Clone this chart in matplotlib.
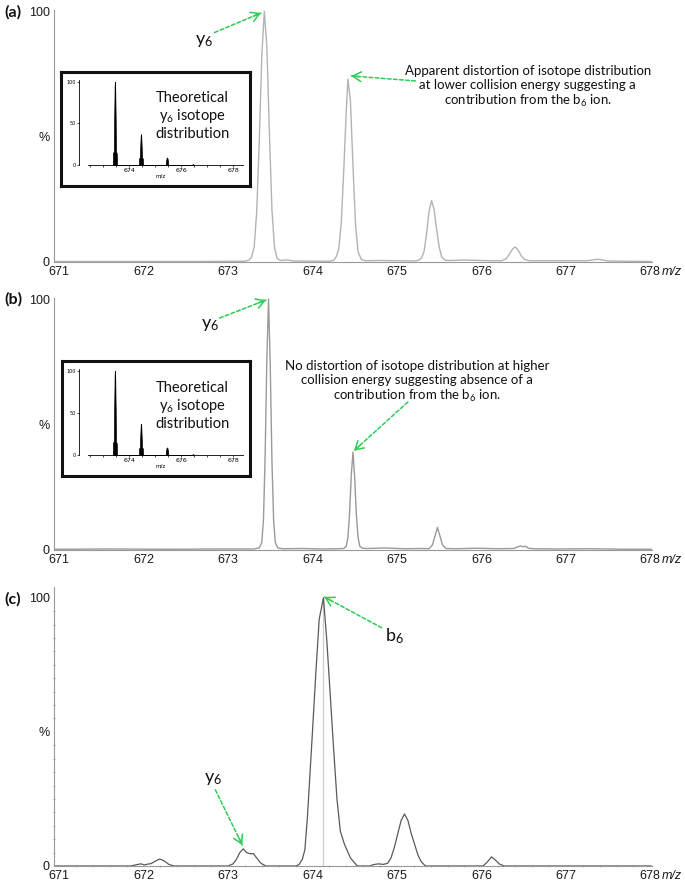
import numpy as np
import matplotlib
matplotlib.use('Agg')
import matplotlib.pyplot as plt
from matplotlib.ticker import MultipleLocator

# --- DATA ---
# (a) lower collision energy, y6 isotope cluster (m/z, %)
a_mz = [670.95, 672.60, 673.20, 673.25, 673.28, 673.31, 673.34, 673.37, 673.40, 673.43, 673.46, 673.49, 673.52, 673.55, 673.58, 673.62, 673.70, 673.78,
        674.20, 674.25, 674.28, 674.31, 674.34, 674.37, 674.40, 674.42, 674.45, 674.48, 674.51, 674.54, 674.58, 674.63, 674.80, 675.00,
        675.20, 675.25, 675.29, 675.32, 675.35, 675.38, 675.41, 675.44, 675.47, 675.50, 675.53, 675.57, 675.63, 675.80, 676.00, 676.15,
        676.24, 676.29, 676.33, 676.37, 676.40, 676.43, 676.47, 676.51, 676.57, 676.80, 677.05, 677.25, 677.32, 677.38, 677.44, 677.50, 677.70, 678.02]
a_int = [0.2, 0.2, 0.3, 0.8, 2, 6, 20, 48, 82, 100, 86, 52, 21, 6, 1.5, 0.6, 0.8, 0.4,
         0.3, 0.6, 2, 5, 15, 36, 60, 73, 64, 38, 15, 4, 1, 0.5, 0.6, 0.5,
         0.4, 0.6, 1.5, 4, 11, 20, 24.5, 21, 13, 6, 2, 0.7, 0.6, 0.8, 0.6, 0.5,
         0.5, 1.2, 3, 5.2, 6, 5, 2.6, 1, 0.5, 0.5, 0.5, 0.5, 0.8, 1.1, 0.8, 0.4, 0.3, 0.2]

# (b) higher collision energy
b_mz = [670.95, 671.60, 672.30, 672.90, 673.30, 673.37, 673.40, 673.42, 673.44, 673.46, 673.48, 673.50, 673.52, 673.54, 673.56, 673.59, 673.65, 673.90, 674.10, 674.30,
        674.37, 674.40, 674.42, 674.44, 674.46, 674.48, 674.50, 674.52, 674.54, 674.56, 674.59, 674.65, 674.85, 675.10, 675.30,
        675.38, 675.42, 675.45, 675.48, 675.51, 675.54, 675.58, 675.70, 675.95, 676.20, 676.38, 676.43, 676.46, 676.49, 676.52, 676.56, 676.62, 676.90, 677.30, 677.70, 678.02]
b_int = [0.3, 0.4, 0.3, 0.4, 0.4, 0.8, 3, 12, 38, 76, 100, 74, 36, 12, 3, 0.8, 0.5, 0.6, 0.4, 0.5,
         0.6, 1.5, 5, 15, 30, 39, 29, 14, 5, 1.5, 0.7, 0.6, 0.8, 0.5, 0.6,
         0.5, 2, 5.5, 9, 5.5, 2, 0.6, 0.5, 0.7, 0.5, 0.6, 1.2, 1.6, 1.3, 1.5, 0.7, 0.5, 0.4, 0.5, 0.3, 0.3]

# (c) b6 dominated spectrum
c_mz = [670.95, 671.85, 671.92, 671.97, 672.01, 672.05, 672.09, 672.14, 672.19, 672.24, 672.30, 672.36, 673.00,
        673.06, 673.10, 673.14, 673.18, 673.22, 673.26, 673.30, 673.34, 673.39, 673.45, 673.80,
        673.84, 673.88, 673.91, 673.94, 673.97, 674.00, 674.04, 674.08, 674.13, 674.17, 674.21, 674.25, 674.29, 674.33, 674.38, 674.45, 674.53, 674.68,
        674.72, 674.78, 674.84, 674.89, 674.93, 674.97, 675.01, 675.05, 675.09, 675.13, 675.17, 675.21, 675.25, 675.29, 675.34, 675.45,
        676.02, 676.07, 676.12, 676.16, 676.21, 676.27, 678.02]
c_int = [0, 0, 0.5, 0.8, 0.4, 0.7, 0.9, 1.8, 2.6, 2.0, 0.6, 0, 0,
         0.8, 2.5, 5, 6.4, 5.0, 4.6, 4.6, 3.0, 1.0, 0, 0,
         0.5, 2.5, 6, 18, 34, 50, 72, 92, 100, 84, 64, 44, 25, 13, 8, 3, 0, 0,
         0.5, 0.8, 0.6, 1.0, 3, 7, 12, 17, 19.4, 17, 12, 8, 4, 1.5, 0, 0,
         0, 1.5, 3.4, 2.4, 0.8, 0, 0]
c_centroid = 674.13

# theoretical y6 isotope distribution (inset)
th_mz = [673.37, 673.38, 673.41, 673.42, 673.44, 673.45, 673.46, 673.48, 673.49, 673.52, 673.53,
         674.37, 674.38, 674.41, 674.42, 674.44, 674.45, 674.46, 674.48, 674.49, 674.52, 674.53,
         675.40, 675.41, 675.43, 675.45, 675.47, 675.49, 675.50,
         676.41, 676.45, 676.49]
th_int = [0, 15, 16, 52, 95, 100, 95, 52, 16, 14, 0,
          0, 8, 9, 20, 35, 37, 35, 20, 9, 8, 0,
          0, 4, 8, 9, 8, 4, 0,
          0, 1.2, 0]

x_ticks = [671, 672, 673, 674, 675, 676, 677, 678]

GREEN = '#2ecc55'
W, H = 685, 882

plt.rcParams['mathtext.default'] = 'regular'
fig = plt.figure(figsize=(W / 100, H / 100), dpi=100)


def px_box(left, top, right, bottom):
    return [left / W, 1 - bottom / H, (right - left) / W, (bottom - top) / H]


def style_panel(ax, top):
    ax.set_xlim(670.94, 678.02)
    ax.set_ylim(0, top)
    for s in ['top', 'right']:
        ax.spines[s].set_visible(False)
    for s in ['left', 'bottom']:
        ax.spines[s].set_color('#999999')
        ax.spines[s].set_linewidth(0.8)
    ax.set_xticks(x_ticks)
    ax.set_xticklabels([str(v) for v in x_ticks])
    ax.set_yticks([0, 50, 100])
    ax.set_yticklabels(['0', '%', '100'])
    ax.tick_params(length=0, labelsize=9, labelcolor='#1a1a1a', pad=3)
    for lab in ax.get_xticklabels() + ax.get_yticklabels():
        lab.set_family('Liberation Sans')
    ax.annotate('m/z', xy=(678, 0), xycoords=('data', 'axes fraction'),
                xytext=(8.5, -3), textcoords='offset points', va='top', ha='left',
                style='italic', fontsize=9, color='#1a1a1a', family='Liberation Sans')
    ax.patch.set_alpha(0)


def green_arrow(ax, start, end):
    ax.annotate('', xy=end, xytext=start,
                arrowprops=dict(arrowstyle='-', color=GREEN, lw=1.1,
                                linestyle=(0, (2.5, 1.5)), shrinkA=0, shrinkB=0))
    p0 = ax.transData.transform(start)
    p1 = ax.transData.transform(end)
    d = p1 - p0
    d = d / np.hypot(*d) * 8
    back = ax.transData.inverted().transform(p1 - d)
    ax.annotate('', xy=end, xytext=back,
                arrowprops=dict(arrowstyle='->,head_length=0.6,head_width=0.35',
                                color=GREEN, lw=1.1, shrinkA=0, shrinkB=0))


def add_inset(box_px, inner_px, text_y):
    box = fig.add_axes(px_box(*box_px))
    box.set_xticks([])
    box.set_yticks([])
    box.set_facecolor('white')
    for sp in box.spines.values():
        sp.set_linewidth(2.2)
        sp.set_color('#111111')
    ins = fig.add_axes(px_box(*inner_px))
    ins.patch.set_alpha(0)
    ins.fill_between(th_mz, th_int, color='black', lw=0.5)
    ins.set_xlim(672.07, 678.37)
    ins.set_ylim(0, 102)
    for s in ['top', 'right']:
        ins.spines[s].set_visible(False)
    for s in ['left', 'bottom']:
        ins.spines[s].set_linewidth(0.6)
    ins.spines['bottom'].set_bounds(672.42, 678.37)
    ins.set_xticks([674, 676, 678])
    ins.xaxis.set_minor_locator(MultipleLocator(0.5))
    ins.set_yticks([0, 50, 100])
    ins.tick_params(which='both', length=1.5, width=0.5, labelsize=4.5, pad=1)
    ins.tick_params(axis='y', labelsize=3.5)
    ins.set_xlabel('m/z', fontsize=4, labelpad=0)
    fig.text(192 / W, 1 - text_y / H, 'Theoretical\ny$_6$ isotope\ndistribution',
             ha='center', va='center', fontsize=10.5, family='Lato', linespacing=1.15,
             color='#111111')


# (a)
ax_a = fig.add_axes(px_box(54, 10, 652, 262))
ax_a.plot(a_mz, a_int, color='#b3b3b3', lw=1.0)
style_panel(ax_a, 100.5)

# (b)
ax_b = fig.add_axes(px_box(54, 298, 652, 550))
ax_b.plot(b_mz, b_int, color='#9a9a9a', lw=1.0)
style_panel(ax_b, 100.4)

# (c)
ax_c = fig.add_axes(px_box(54, 587, 652, 866))
ax_c.plot([c_centroid, c_centroid], [0, 100], color='#cccccc', lw=0.9)
ax_c.plot(c_mz, c_int, color='#5a5a5a', lw=0.9)
style_panel(ax_c, 104)
ax_c.xaxis.set_minor_locator(MultipleLocator(0.2))
ax_c.yaxis.set_minor_locator(MultipleLocator(5))
ax_c.tick_params(which='minor', length=2, width=0.6, color='#999999', direction='inout')

# annotations
txt = dict(family='Lato', color='#111111')
ax_a.text(672.72, 88, 'y$_6$', fontsize=13, ha='center', va='center', **txt)
green_arrow(ax_a, (672.84, 91.5), (673.39, 99.3))
ax_a.text(676.55, 69.8, 'Apparent distortion of isotope distribution\nat lower collision energy suggesting a\ncontribution from the b$_6$ ion.',
          fontsize=9.5, ha='center', va='center', linespacing=1.15, **txt)
green_arrow(ax_a, (675.22, 72.2), (674.46, 74.2))

ax_b.text(672.79, 89.6, 'y$_6$', fontsize=13, ha='center', va='center', **txt)
green_arrow(ax_b, (672.9, 92.4), (673.45, 99.6))
ax_b.text(675.24, 66.9, 'No distortion of isotope distribution at higher\ncollision energy suggesting absence of a\ncontribution from the b$_6$ ion.',
          fontsize=9.5, ha='center', va='center', linespacing=1.15, **txt)
green_arrow(ax_b, (675.13, 59), (674.49, 39.5))

ax_c.text(674.97, 85.8, 'b$_6$', fontsize=13, ha='center', va='center', **txt)
green_arrow(ax_c, (674.82, 88.8), (674.14, 100.3))
ax_c.text(672.82, 32.5, 'y$_6$', fontsize=13, ha='center', va='center', **txt)
green_arrow(ax_c, (672.85, 28.4), (673.17, 7.8))

# insets
add_inset((61, 72, 250, 186), (79, 80, 243, 165), 116)
add_inset((62, 361, 250, 476), (79, 369, 243, 455), 406)

# panel labels
for lab, y in [('(a)', 12), ('(b)', 299), ('(c)', 599)]:
    fig.text(4 / W, 1 - y / H, lab, fontsize=11.5, fontweight='bold', family='Lato',
             va='center', ha='left', color='#111111')

fig.savefig('out.png', dpi=100)
